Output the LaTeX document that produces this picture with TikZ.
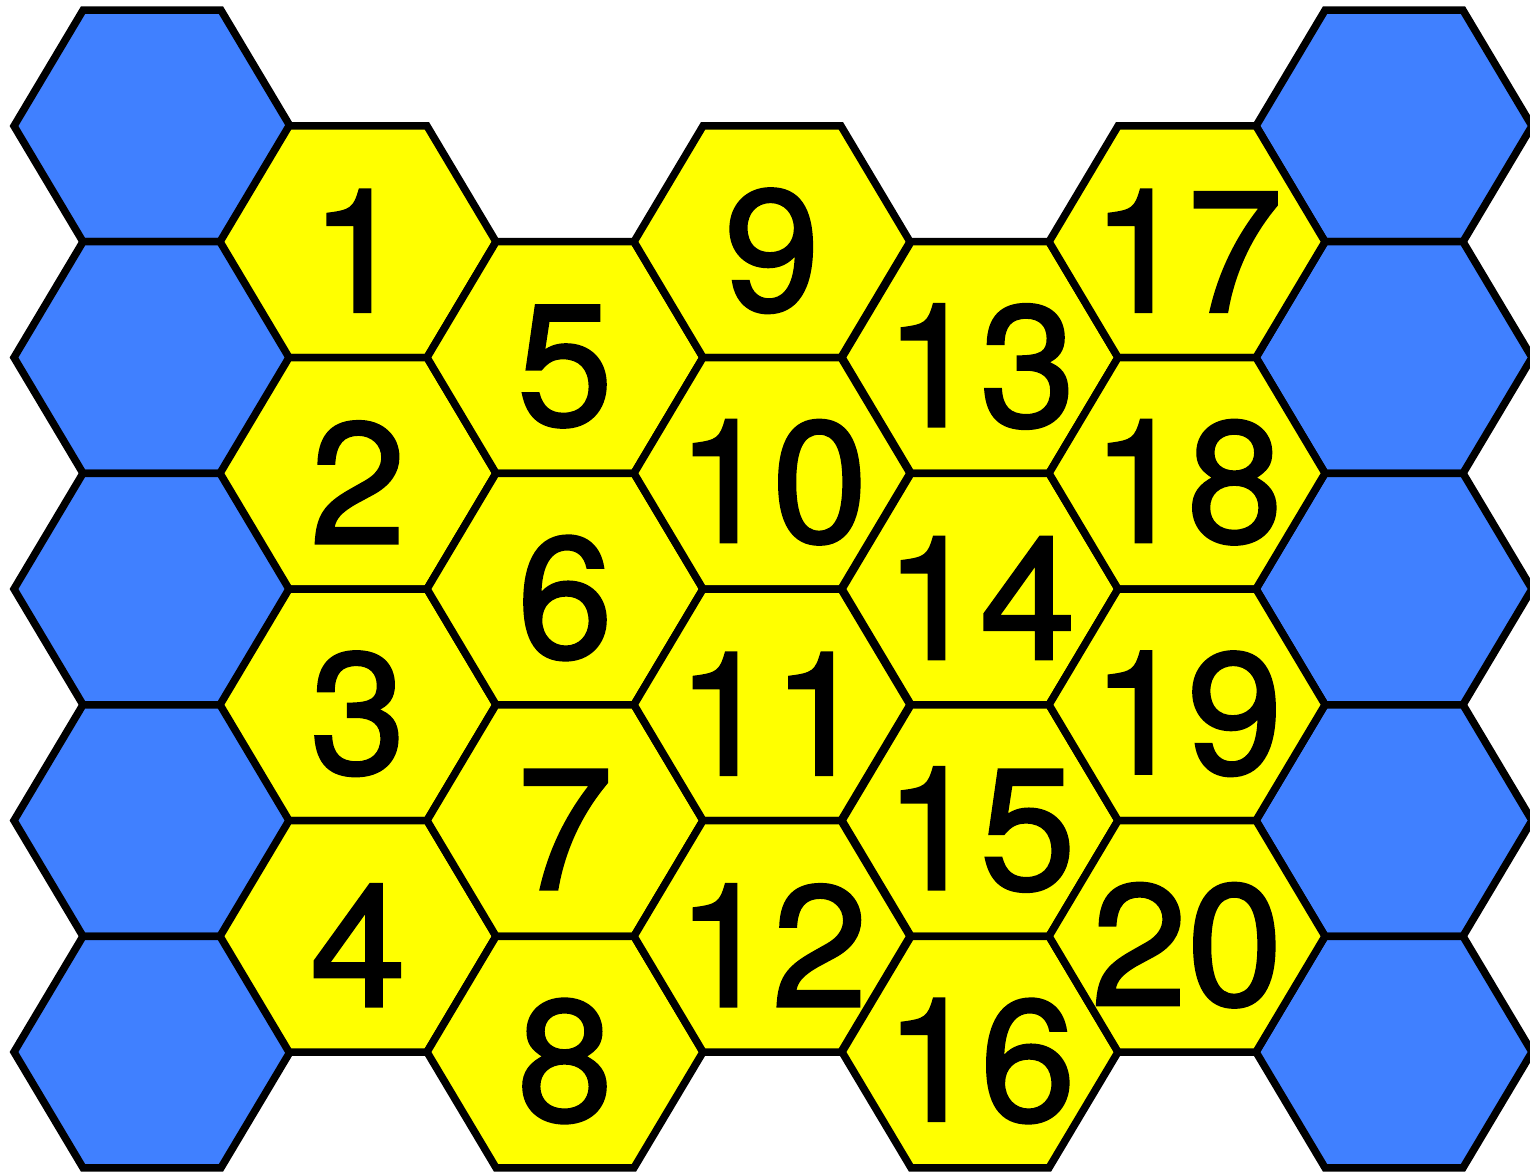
\documentclass[tikz,border=0pt]{standalone}
\usepackage{fontspec}
\setmainfont{Liberation Sans}
\newfontfamily\numfont[FakeBold=1.6]{TeX Gyre Heros}
\definecolor{hexblue}{HTML}{4080FF}
\definecolor{hexyellow}{HTML}{FFFF00}
\newcommand\hexat[3]{\draw[hexcell,fill=#3] ({#1-138},{#2}) -- ({#1-69},{#2-115.75}) -- ({#1+69},{#2-115.75}) -- ({#1+138},{#2}) -- ({#1+69},{#2+115.75}) -- ({#1-69},{#2+115.75}) -- cycle;}
\begin{document}
\begin{tikzpicture}[x=1pt,y=-1pt,
  hexcell/.style={draw=black,line width=7.5pt,line join=miter},
  lbl/.style={font=\numfont\fontsize{172}{172}\selectfont,inner sep=0pt,text=black}]
\useasboundingbox (0,0) rectangle (1530,1174);
% blue side cells
\foreach \y in {126,357.5,589,820.5,1052}{
  \hexat{152}{\y}{hexblue}
  \hexat{1394}{\y}{hexblue}
}
% yellow numbered cells
\foreach \n/\x/\y in {
  1/358/241.75, 2/358/473.25, 3/358/704.75, 4/358/936.25,
  5/565/357.5, 6/565/589, 7/565/820.5, 8/565/1052,
  9/772/241.75, 10/772/473.25, 11/772/704.75, 12/772/936.25,
  13/980/357.5, 14/980/589, 15/980/820.5, 16/980/1052,
  17/1187/241.75, 18/1187/473.25, 19/1187/704.75, 20/1187/936.25}{
  \hexat{\x}{\y}{hexyellow}
}
\foreach \n/\x/\y in {
  1/358/241.75, 2/358/473.25, 3/358/704.75, 4/358/936.25,
  5/565/357.5, 6/565/589, 7/565/820.5, 8/565/1052,
  9/772/241.75, 10/772/473.25, 11/772/704.75, 12/772/936.25,
  13/980/357.5, 14/980/589, 15/980/820.5, 16/980/1052,
  17/1187/241.75, 18/1187/473.25, 19/1187/704.75, 20/1187/936.25}{
  \node[lbl] (t\n) at (\x,{\y+9}) {\n};
}
\end{tikzpicture}
\end{document}
